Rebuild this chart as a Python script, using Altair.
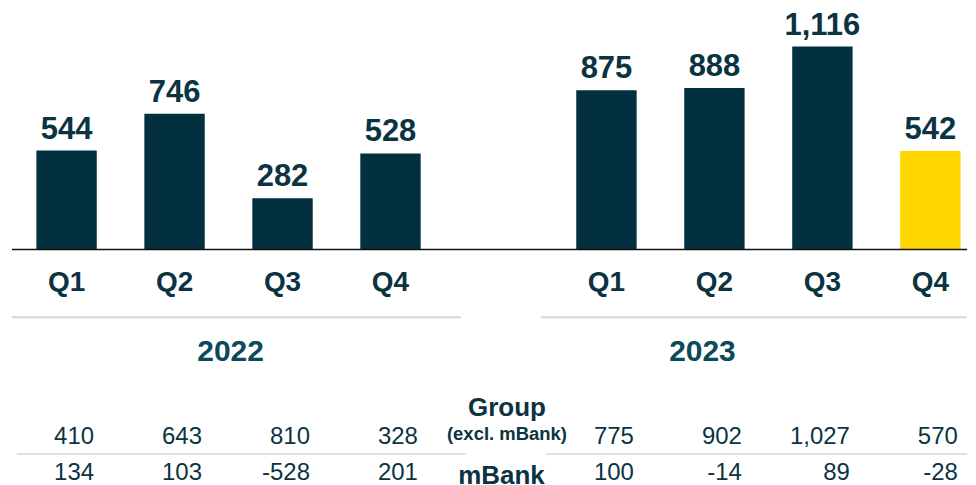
import altair as alt
import pandas as pd

# ---- data ----
quarters = ["Q1", "Q2", "Q3", "Q4"]
years = ["2022", "2023"]
net_profit_2022 = [544, 746, 282, 528]
net_profit_2023 = [875, 888, 1116, 542]
group_excl_mbank = [410, 643, 810, 328, 775, 902, 1027, 570]
mbank = [134, 103, -528, 201, 100, -14, 89, -28]
row_label_group = "Group"
row_label_excl = "(excl. mBank)"
row_label_mbank = "mBank"

# category slots along the x axis (one empty slot between the years)
slots = [f"2022 {q}" for q in quarters] + ["gap"] + [f"2023 {q}" for q in quarters]

rows = []
for i, (yr, vals) in enumerate(zip(years, [net_profit_2022, net_profit_2023])):
    for j, q in enumerate(quarters):
        k = i * 4 + j
        slot = f"{yr} {q}"
        rows.append({
            "slot": slot, "pos": slots.index(slot), "year": yr, "quarter": q,
            "value": vals[j],
            "label": f"{vals[j]:,}",
            "group": f"{group_excl_mbank[k]:,}",
            "mbank": f"{mbank[k]:,}",
        })
df = pd.DataFrame(rows)
current_slot = slots[-1]

# ---- styles ----
FONT = "Liberation Sans"
DARK = "#03303f"
TEXT = "#0b3341"
YEAR = "#0c4a59"
YELLOW = "#ffd500"
GREY = "#d4d9da"
HALF_BAR = 0.2796  # half bar width in slot units
W = 957

x_scale = alt.Scale(domain=[-0.5055, 8.3392], nice=False, zero=False)
y_scale = alt.Scale(domain=[-1292, 1325], nice=False, zero=False)
x_enc = alt.X("pos:Q", scale=x_scale, axis=None)

base = alt.Chart(df)
one = pd.DataFrame({"v": [0]})

bars = base.transform_calculate(
    x0=f"datum.pos - {HALF_BAR}", x1=f"datum.pos + {HALF_BAR}"
).mark_bar().encode(
    x=alt.X("x0:Q", scale=x_scale, axis=None),
    x2="x1:Q",
    y=alt.Y("value:Q", scale=y_scale, axis=None),
    y2=alt.datum(0),
    color=alt.condition(alt.datum.slot == current_slot, alt.value(YELLOW), alt.value(DARK)),
)

bar_labels = base.mark_text(font=FONT, fontSize=31, fontWeight="bold", color=TEXT,
                            baseline="alphabetic", dy=-12).encode(
    x=x_enc, y=alt.Y("value:Q", scale=y_scale, axis=None), text="label:N")

zero_rule = alt.Chart(one).mark_rule(color="#111111", strokeWidth=1.6).encode(
    y=alt.Y("v:Q", scale=y_scale, axis=None))

q_labels = base.mark_text(font=FONT, fontSize=28, fontWeight="bold", color=TEXT,
                          baseline="alphabetic").encode(
    x=x_enc, y=alt.value(291.5 - 8), text="quarter:N")

year_df = pd.DataFrame({"pos": [1.5, 6.0], "year": years})
year_2022 = alt.Chart(year_df).transform_filter(alt.datum.year == years[0]).mark_text(
    font=FONT, fontSize=30, fontWeight="bold", color=YEAR, baseline="alphabetic", dx=2
).encode(x=x_enc, y=alt.value(361.5 - 8), text="year:N")
year_2023 = alt.Chart(year_df).transform_filter(alt.datum.year == years[1]).mark_text(
    font=FONT, fontSize=30, fontWeight="bold", color=YEAR, baseline="alphabetic", dx=-12
).encode(x=x_enc, y=alt.value(361.5 - 8), text="year:N")

sep_left = alt.Chart(one).mark_rule(color=GREY, strokeWidth=2).encode(
    x=alt.value(0), x2=alt.value(450), y=alt.value(317.5 - 8))
sep_right = alt.Chart(one).mark_rule(color=GREY, strokeWidth=2).encode(
    x=alt.value(530), x2=alt.value(W), y=alt.value(317.5 - 8))
tab_left = alt.Chart(one).mark_rule(color=GREY, strokeWidth=1.5).encode(
    x=alt.value(5), x2=alt.value(455), y=alt.value(454.5 - 8))
tab_right = alt.Chart(one).mark_rule(color=GREY, strokeWidth=1.5).encode(
    x=alt.value(535), x2=alt.value(W), y=alt.value(454.5 - 8))

group_vals = base.mark_text(font=FONT, fontSize=24, color=TEXT, align="right",
                            baseline="alphabetic", dx=27.5).encode(
    x=x_enc, y=alt.value(444 - 8), text="group:N")
mbank_vals = base.mark_text(font=FONT, fontSize=24, color=TEXT, align="right",
                            baseline="alphabetic", dx=27.5).encode(
    x=x_enc, y=alt.value(480 - 8), text="mbank:N")

lab_df = pd.DataFrame({"t": [row_label_group, row_label_excl, row_label_mbank]})
lab_group = alt.Chart(lab_df).transform_filter(alt.datum.t == row_label_group).mark_text(
    font=FONT, fontSize=26, fontWeight="bold", color=TEXT, baseline="alphabetic"
).encode(x=alt.value(496), y=alt.value(416 - 8), text="t:N")
lab_excl = alt.Chart(lab_df).transform_filter(alt.datum.t == row_label_excl).mark_text(
    font=FONT, fontSize=18.5, fontWeight="bold", color=TEXT, baseline="alphabetic"
).encode(x=alt.value(496), y=alt.value(440 - 8), text="t:N")
lab_mbank = alt.Chart(lab_df).transform_filter(alt.datum.t == row_label_mbank).mark_text(
    font=FONT, fontSize=26, fontWeight="bold", color=TEXT, baseline="alphabetic"
).encode(x=alt.value(490.5), y=alt.value(484 - 8), text="t:N")

chart = alt.layer(
    bars, bar_labels, zero_rule, q_labels, year_2022, year_2023,
    sep_left, sep_right, tab_left, tab_right, group_vals, mbank_vals,
    lab_group, lab_excl, lab_mbank,
).properties(
    width=W, height=477,
    padding={"left": 3, "top": 0, "right": 0, "bottom": 0},
).configure_view(stroke=None)

chart.save("out.html", embed_options={"renderer": "svg", "actions": False})
